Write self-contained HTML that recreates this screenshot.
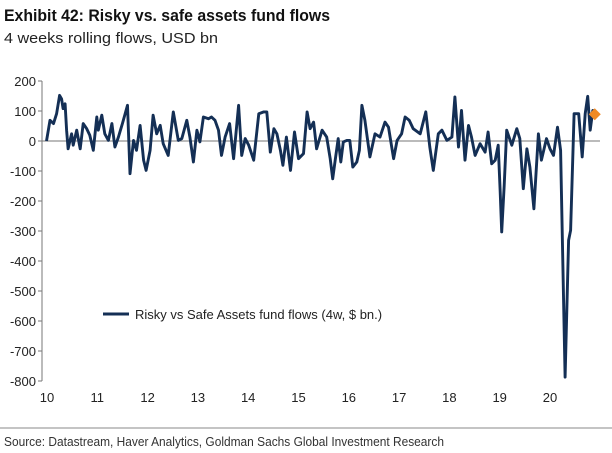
<!DOCTYPE html>
<html><head><meta charset="utf-8"><style>
body{margin:0;background:#fff;width:612px;height:453px;overflow:hidden;font-family:"Liberation Sans",sans-serif}
svg{display:block}
</style></head><body>
<svg width="612" height="453" xmlns="http://www.w3.org/2000/svg">
<text x="4" y="21" font-size="17" font-weight="bold" fill="#111" textLength="326" lengthAdjust="spacingAndGlyphs">Exhibit 42: Risky vs. safe assets fund flows</text>
<text x="4" y="43" font-size="15" fill="#222" textLength="214" lengthAdjust="spacingAndGlyphs">4 weeks rolling flows, USD bn</text>
<g id="axes"></g>
<g id="series"></g>
<line x1="103" y1="314" x2="129" y2="314" stroke="#142f55" stroke-width="3"/>
<text x="135" y="319" font-size="13" fill="#222">Risky vs Safe Assets fund flows (4w, $ bn.)</text>
<line x1="0" y1="428" x2="612" y2="428" stroke="#888" stroke-width="1"/>
<text x="4" y="446" font-size="12.5" fill="#333" textLength="440" lengthAdjust="spacingAndGlyphs">Source: Datastream, Haver Analytics, Goldman Sachs Global Investment Research</text>
</svg>
<script>
const yTicks=[200,100,0,-100,-200,-300,-400,-500,-600,-700,-800];
const xTicks=[10,11,12,13,14,15,16,17,18,19,20];
const years=[9.99,10.06,10.13,10.19,10.25,10.29,10.32,10.36,10.39,10.42,10.49,10.52,10.59,10.66,10.72,10.79,10.85,10.92,10.99,11.02,11.09,11.15,11.22,11.29,11.35,11.42,11.50,11.60,11.65,11.72,11.78,11.85,11.92,11.97,12.05,12.11,12.18,12.25,12.31,12.41,12.51,12.61,12.68,12.78,12.84,12.91,12.98,13.04,13.11,13.21,13.27,13.34,13.41,13.47,13.54,13.63,13.71,13.81,13.87,13.94,14.01,14.11,14.21,14.31,14.37,14.44,14.51,14.57,14.64,14.69,14.76,14.84,14.92,15.00,15.10,15.17,15.23,15.30,15.36,15.47,15.56,15.63,15.68,15.73,15.79,15.84,15.89,15.96,16.02,16.08,16.16,16.21,16.26,16.32,16.42,16.52,16.62,16.72,16.79,16.89,16.96,17.05,17.12,17.20,17.28,17.42,17.53,17.61,17.68,17.78,17.85,17.95,18.05,18.11,18.18,18.24,18.31,18.38,18.44,18.51,18.61,18.71,18.77,18.84,18.91,18.97,19.01,19.04,19.09,19.14,19.24,19.34,19.40,19.47,19.54,19.60,19.68,19.77,19.83,19.93,20.00,20.07,20.15,20.21,20.30,20.37,20.41,20.48,20.57,20.64,20.70,20.75,20.80,20.85,20.89];
const flows=[0,69,58,91,152,140,108,124,36,-26,24,-14,36,-26,58,41,19,-31,80,36,86,24,2,58,-20,13,58,119,-109,2,-31,52,-64,-98,-31,86,24,52,-9,-48,97,2,8,69,13,-70,36,-3,80,74,80,69,36,-48,13,58,-59,119,-48,8,-14,-64,91,97,97,-37,41,24,-31,-81,13,-98,30,-59,-42,97,41,63,-26,36,13,-59,-126,-64,8,-70,-3,2,2,-87,-70,-31,119,69,-53,24,13,63,46,-59,2,24,80,69,41,24,97,-20,-98,24,36,2,13,147,-20,102,-64,52,13,-48,-9,-37,30,-76,-64,-14,-170,-303,-148,36,-14,41,8,-159,-26,-87,-226,24,-64,8,-26,-48,46,-31,-787,-331,-298,91,91,-53,91,149,36,102,89];
const lastYear=20.89, lastValue=89;
const X=y=>47+(y-10)*50.3;
const Y=v=>141-v*0.3;
const NS="http://www.w3.org/2000/svg";
const ax=document.getElementById('axes');
function mk(t,a,p){const e=document.createElementNS(NS,t);for(const k in a)e.setAttribute(k,a[k]);p.appendChild(e);return e;}
const yl=mk('line',{x1:42,y1:Y(200),x2:42,y2:Y(-800),stroke:'#777','stroke-width':1},ax);


yTicks.forEach(v=>{
  const t=mk('text',{x:36,y:Y(v)+5,'font-size':13,'text-anchor':'end',fill:'#222'},ax);
  t.textContent=v;
  
  
  const tk=mk('line',{x1:38,y1:Y(v),x2:42,y2:Y(v),stroke:'#777'},ax);
  
  
});
xTicks.forEach(v=>{
  const t=mk('text',{x:X(v),y:402,'font-size':13,'text-anchor':'middle',fill:'#222'},ax);
  t.textContent=v;
  
  
});
const zl=mk('line',{x1:42,y1:Y(0),x2:600,y2:Y(0),stroke:'#777','stroke-width':1},ax);


const s=document.getElementById('series');
const pts=years.map((y,i)=>X(y).toFixed(1)+','+Y(flows[i]).toFixed(1)).join(' ');
const pl=mk('polyline',{points:pts,fill:'none',stroke:'#142f55','stroke-width':2.9,'stroke-linejoin':'round'},s);


const cx=X(lastYear),cy=Y(lastValue);
const d=mk('polygon',{points:`${cx},${cy-6} ${cx+6},${cy} ${cx},${cy+6} ${cx-6},${cy}`,fill:'#f08a24'},s);


</script>
</body></html>
